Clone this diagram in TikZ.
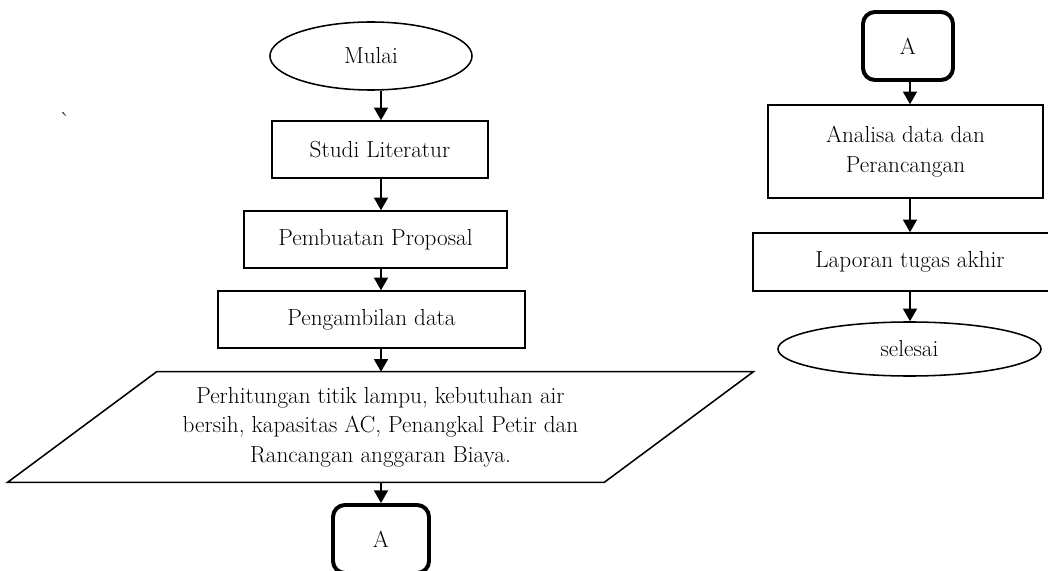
\documentclass[tikz,border=0pt]{standalone}
\usetikzlibrary{shapes.geometric, arrows.meta}

\begin{document}
\begin{tikzpicture}[x=0.025cm, y=-0.025cm,
    every node/.style={font=\fontsize{16.5}{21}\selectfont, align=center},
    box/.style={rectangle, draw, line width=1.1pt, inner sep=0pt},
    term/.style={ellipse, draw, line width=1.1pt, inner sep=0pt},
    io/.style={rectangle, inner sep=0pt},
    conn/.style={rectangle, draw, rounded corners=3mm, line width=2.8pt, inner sep=0pt, minimum width=2.3cm, minimum height=1.7cm},
    arr/.style={line width=1.1pt, -{Triangle[length=9pt, width=10pt]}}]
    \useasboundingbox (0,0) rectangle (1048,571);
    \coordinate (axisL) at (381,0);
    \coordinate (axisR) at (910,0);
    \node (tick) at (65,120) {\textasciigrave};
    \node[term, minimum width=5.05cm, minimum height=1.7cm] (mulai) at (371,56) {Mulai};
    \node[box, minimum width=5.4cm, minimum height=1.425cm] (studi) at (380,149.5) {Studi Literatur};
    \node[box, minimum width=6.575cm, minimum height=1.425cm] (proposal) at (375.5,239.5) {Pembuatan Proposal};
    \node[box, minimum width=7.675cm, minimum height=1.425cm] (ambil) at (371.5,319.5) {Pengambilan data};
    \node[io, minimum width=14.9cm, minimum height=2.75cm] (hitung) at (380.5,427) {Perhitungan titik lampu, kebutuhan air\\ bersih, kapasitas AC, Penangkal Petir dan\\ Rancangan anggaran Biaya.};
    \draw[line width=1.1pt] ([xshift=-1.8625cm]hitung.south west) -- ([xshift=1.8625cm]hitung.north west)
        -- ([xshift=1.8625cm]hitung.north east) -- ([xshift=-1.8625cm]hitung.south east) -- cycle;
    \node[conn, minimum width=2.4cm] (konA) at (381,539) {A};
    \node[conn, minimum width=2.25cm] (konB) at (908,46) {A};
    \node[box, minimum width=6.875cm, minimum height=2.325cm] (analisa) at (905.5,151.5) {Analisa data dan\\ Perancangan};
    \node[box, minimum width=7.85cm, minimum height=1.45cm] (laporan) at (910,262) {Laporan tugas akhir};
    \node[term, minimum width=6.575cm, minimum height=1.35cm] (selesai) at (909.5,349) {selesai};
    \draw[arr] (mulai.south -| axisL) -- (studi.north -| axisL);
    \draw[arr] (studi.south -| axisL) -- (proposal.north -| axisL);
    \draw[arr] (proposal.south -| axisL) -- (ambil.north -| axisL);
    \draw[arr] (ambil.south -| axisL) -- (hitung.north -| axisL);
    \draw[arr] (hitung.south -| axisL) -- (konA.north -| axisL);
    \draw[arr] (konB.south -| axisR) -- (analisa.north -| axisR);
    \draw[arr] (analisa.south -| axisR) -- (laporan.north -| axisR);
    \draw[arr] (laporan.south -| axisR) -- (selesai.north -| axisR);
\end{tikzpicture}
\end{document}
